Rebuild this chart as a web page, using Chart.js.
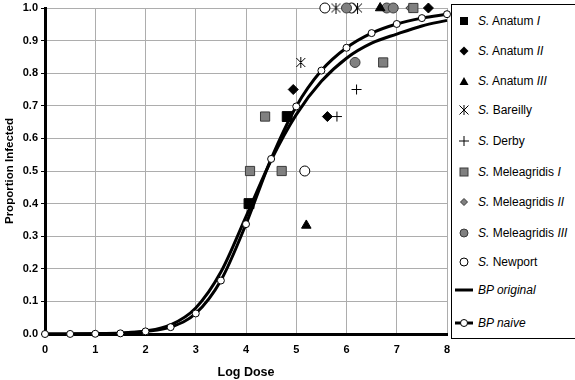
<!DOCTYPE html>
<html><head><meta charset="utf-8">
<script src="https://cdn.jsdelivr.net/npm/chart.js@4/dist/chart.umd.min.js"></script>
<style>
html,body{margin:0;padding:0;background:#fff;}
#wrap{position:relative;width:575px;height:380px;overflow:hidden;}
#c{position:absolute;left:0;top:0;}
#legend{position:absolute;left:451px;top:4px;width:130px;height:333px;border:1px solid #000;background:#fff;font-family:"Liberation Sans",Arial,sans-serif;font-size:12px;color:#000;}
.item{position:absolute;left:0;height:16px;line-height:16px;white-space:nowrap;}
.item svg{position:absolute;left:0;top:-2px;}
.item span{position:absolute;left:26px;top:0;}
</style></head>
<body>
<div id="wrap">
<canvas id="c" width="575" height="380"></canvas>
<div id="legend"></div>
</div>
<script>
// ---- data ----
const anatumI      = [[4.06,0.4],[4.82,0.667]];
const anatumII     = [[4.94,0.75],[5.62,0.667],[7.63,1.0]];
const anatumIII    = [[5.2,0.333],[6.67,1.0]];
const bareilly     = [[5.09,0.833],[5.79,1.0],[6.22,1.0]];
const derby        = [[6.2,0.75],[5.81,0.667]];
const meleagridisI = [[4.08,0.5],[4.71,0.5],[4.38,0.667],[6.73,0.833],[7.33,1.0]];
const meleagridisII= [[7.28,1.0]];
const meleagridisIII=[[6.17,0.833],[6.0,1.0],[6.8,1.0],[6.93,1.0]];
const newport      = [[5.17,0.5],[5.57,1.0],[6.1,1.0]];

const curveX     = [0,0.5,1,1.5,2,2.5,3,3.5,4,4.5,5,5.5,6,6.5,7,7.5,8];
const bpOriginal = [0,0.0003,0.001,0.003,0.009,0.028,0.08,0.19,0.36,0.533,0.673,0.775,0.846,0.892,0.92,0.945,0.962];
const bpNaive    = [0,0.0002,0.0007,0.002,0.008,0.021,0.063,0.164,0.337,0.537,0.698,0.808,0.878,0.923,0.951,0.969,0.981];

const xTicks = [0,1,2,3,4,5,6,7,8];
const yTicks = [0,0.1,0.2,0.3,0.4,0.5,0.6,0.7,0.8,0.9,1.0];

const legendItems = [
  {html:'<i>S.</i> Anatum <i>I</i>', mk:'sqBlack'},
  {html:'<i>S.</i> Anatum <i>II</i>', mk:'diaBlack'},
  {html:'<i>S.</i> Anatum <i>III</i>', mk:'tri'},
  {html:'<i>S.</i> Bareilly', mk:'ast'},
  {html:'<i>S.</i> Derby', mk:'plus'},
  {html:'<i>S.</i> Meleagridis <i>I</i>', mk:'sqGray'},
  {html:'<i>S.</i> Meleagridis <i>II</i>', mk:'diaGray'},
  {html:'<i>S.</i> Meleagridis <i>III</i>', mk:'circGray'},
  {html:'<i>S.</i> Newport', mk:'circOpen'},
  {html:'<i>BP original</i>', mk:'line'},
  {html:'<i>BP naive</i>', mk:'lineMk'}
];
const legendY = [21,51,81,110,141,172,202,233,262,290,323];

// ---- helpers ----
const pts = a => a.map(p => ({x:p[0], y:p[1]}));
const GRAY = '#808080', GRAYB = '#3a3a3a';

function asterisk(){
  const c = document.createElement('canvas'); c.width = 11; c.height = 11;
  const g = c.getContext('2d'); g.strokeStyle = '#000'; g.lineWidth = 1;
  g.beginPath();
  g.moveTo(5.5,0); g.lineTo(5.5,11);
  g.moveTo(1,1); g.lineTo(10,10);
  g.moveTo(10,1); g.lineTo(1,10);
  g.stroke();
  return c;
}

function scatterDs(data, style, r, bg, bc, bw){
  return {data:pts(data), pointStyle:style, pointRadius:r, pointHoverRadius:r,
    backgroundColor:bg, borderColor:bc, pointBorderWidth:bw, borderWidth:bw, showLine:false, clip:false};
}

const datasets = [
  scatterDs(anatumI,'rect',7,'#000','#000',1),
  scatterDs(anatumII,'rectRot',5,'#000','#000',1),
  scatterDs(anatumIII,'triangle',5.5,'#000','#000',1),
  scatterDs(bareilly,asterisk(),5,'#000','#000',1),
  scatterDs(derby,'cross',5,'#000','#000',1),
  scatterDs(meleagridisI,'rect',6.5,GRAY,GRAYB,1),
  scatterDs(meleagridisII,'rectRot',5,GRAY,GRAYB,1),
  scatterDs(meleagridisIII,'circle',5,GRAY,GRAYB,1),
  scatterDs(newport,'circle',5,'#fff','#000',1),
  {data:curveX.map((x,i)=>({x, y:bpNaive[i]})), showLine:true, borderColor:'#000', borderWidth:3,
   cubicInterpolationMode:'monotone', pointStyle:'circle', pointRadius:3.5, pointBackgroundColor:'#fff',
   pointBorderColor:'#000', pointBorderWidth:1, clip:false},
  {data:curveX.map((x,i)=>({x, y:bpOriginal[i]})), showLine:true, borderColor:'#000', borderWidth:3,
   cubicInterpolationMode:'monotone', pointRadius:0, clip:false}
];

const FONT = '"Liberation Sans", Arial, sans-serif';

new Chart(document.getElementById('c'), {
  type:'scatter',
  data:{datasets},
  options:{
    responsive:false, animation:false, devicePixelRatio:1,
    layout:{padding:{top:5,right:128,bottom:0,left:0}},
    plugins:{legend:{display:false}, tooltip:{enabled:false}},
    scales:{
      x:{type:'linear', min:0, max:8,
        afterBuildTicks:s=>{s.ticks = xTicks.map(v=>({value:v}));},
        ticks:{font:{family:FONT,size:11,weight:'bold'}, color:'#000', padding:9, maxRotation:0,
          callback:v=>String(v)},
        grid:{color:'#adadad', lineWidth:1, drawTicks:false},
        border:{color:'#000', width:3},
        title:{display:true, text:'Log Dose', color:'#000', font:{family:FONT,size:12.5,weight:'bold'}, padding:0},
        afterFit:s=>{s.height=46; s.paddingLeft=0; s.paddingRight=0;}
      },
      y:{type:'linear', min:0, max:1,
        afterBuildTicks:s=>{s.ticks = yTicks.map(v=>({value:v}));},
        ticks:{font:{family:FONT,size:11,weight:'bold'}, color:'#000', padding:3,
          callback:v=>Number(v).toFixed(1)},
        grid:{color:'#adadad', lineWidth:1, tickLength:4, tickColor:'#000'},
        border:{color:'#000', width:3},
        title:{display:true, text:'Proportion Infected', color:'#000', font:{family:FONT,size:11.5,weight:'bold'}, padding:3},
        afterFit:s=>{s.width=45; s.paddingTop=0; s.paddingBottom=0;}
      }
    }
  }
});

// ---- HTML legend ----
function markerSvg(k){
  const o = '<svg width="24" height="20" viewBox="0 0 24 20">';
  const c = '</svg>';
  const cx = 12, cy = 10;
  switch(k){
    case 'sqBlack': return o+`<rect x="${cx-4}" y="${cy-4}" width="8" height="8" fill="#000"/>`+c;
    case 'diaBlack': return o+`<polygon points="${cx-4.5},${cy} ${cx},${cy-4.5} ${cx+4.5},${cy} ${cx},${cy+4.5}" fill="#000"/>`+c;
    case 'tri': return o+`<polygon points="${cx-4.5},${cy+4} ${cx},${cy-4} ${cx+4.5},${cy+4}" fill="#000"/>`+c;
    case 'ast': return o+`<path d="M${cx} ${cy-5}V${cy+5}M${cx-4.5} ${cy-4.5}L${cx+4.5} ${cy+4.5}M${cx+4.5} ${cy-4.5}L${cx-4.5} ${cy+4.5}" stroke="#000" stroke-width="1" fill="none"/>`+c;
    case 'plus': return o+`<path d="M${cx} ${cy-5}V${cy+5}M${cx-5} ${cy}H${cx+5}" stroke="#000" stroke-width="1" fill="none"/>`+c;
    case 'sqGray': return o+`<rect x="${cx-4}" y="${cy-4}" width="8" height="8" fill="${GRAY}" stroke="${GRAYB}" stroke-width="1"/>`+c;
    case 'diaGray': return o+`<polygon points="${cx-3.5},${cy} ${cx},${cy-3.5} ${cx+3.5},${cy} ${cx},${cy+3.5}" fill="${GRAY}" stroke="${GRAYB}" stroke-width="1"/>`+c;
    case 'circGray': return o+`<circle cx="${cx}" cy="${cy}" r="4" fill="${GRAY}" stroke="${GRAYB}" stroke-width="1"/>`+c;
    case 'circOpen': return o+`<circle cx="${cx}" cy="${cy}" r="4" fill="#fff" stroke="#000" stroke-width="1"/>`+c;
    case 'line': return o+`<line x1="3" y1="${cy}" x2="21" y2="${cy}" stroke="#000" stroke-width="3"/>`+c;
    case 'lineMk': return o+`<line x1="3" y1="${cy}" x2="21" y2="${cy}" stroke="#000" stroke-width="3"/><circle cx="${cx}" cy="${cy}" r="3.5" fill="#fff" stroke="#000" stroke-width="1"/>`+c;
  }
}
const lg = document.getElementById('legend');
legendItems.forEach((it,i)=>{
  const d = document.createElement('div');
  d.className = 'item';
  d.style.top = (legendY[i] - 5 - 8) + 'px';
  d.innerHTML = markerSvg(it.mk) + '<span>' + it.html + '</span>';
  lg.appendChild(d);
});
</script>
</body></html>
